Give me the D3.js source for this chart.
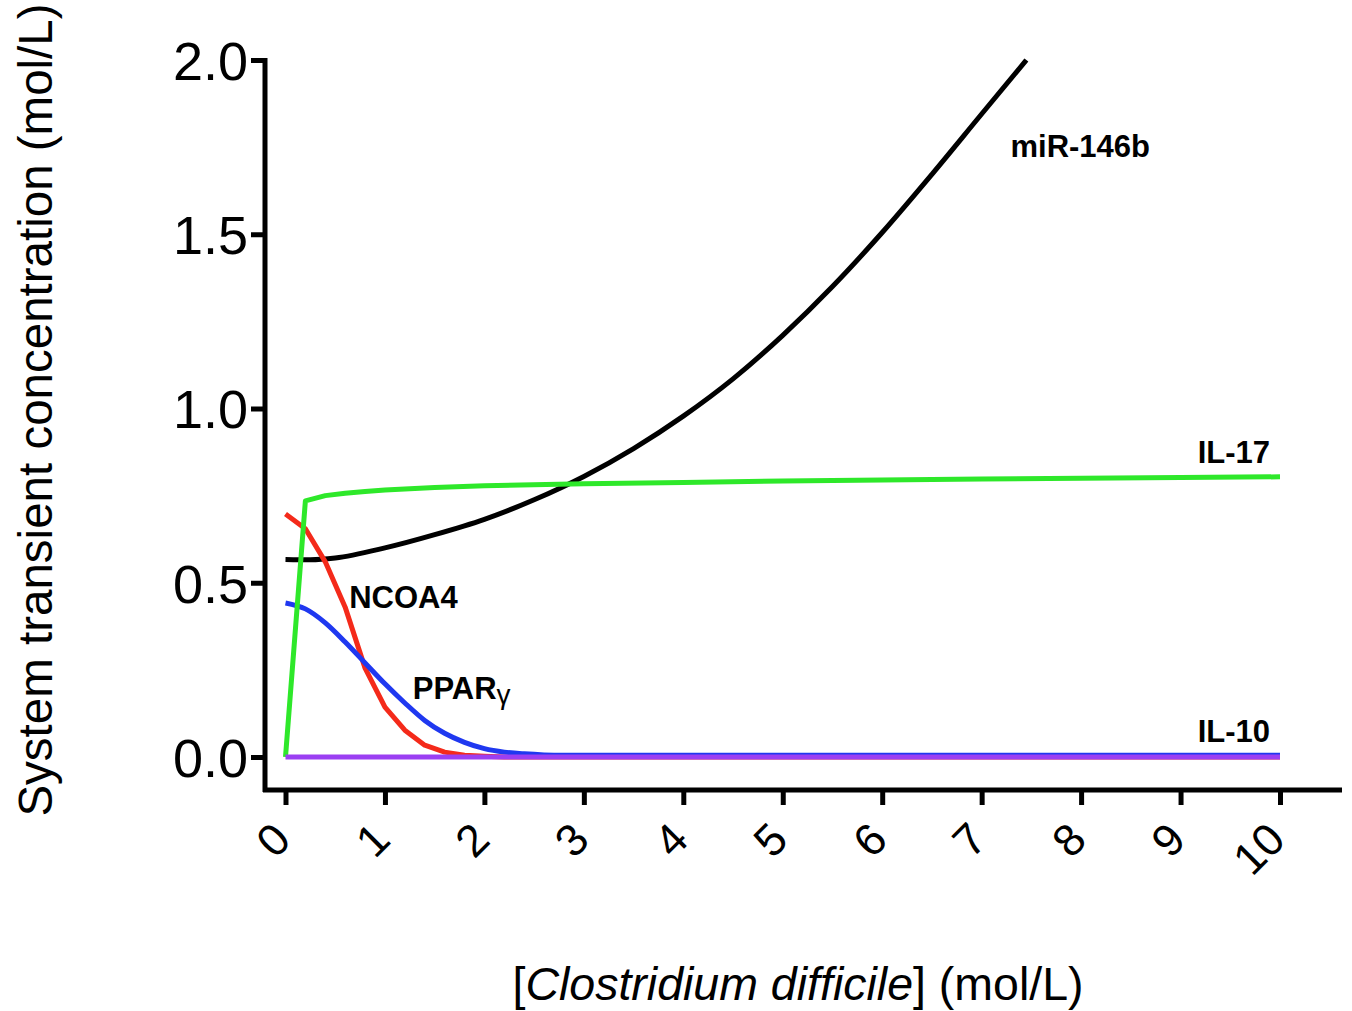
<!DOCTYPE html>
<html>
<head>
<meta charset="utf-8">
<script src="https://cdn.jsdelivr.net/npm/d3@7"></script>
<style>
  html, body { margin: 0; padding: 0; background: #fff; }
  svg { display: block; }
  text { font-family: "Liberation Sans", Arial, Helvetica, sans-serif; fill: #000; }
</style>
</head>
<body>
<svg id="chart" width="1352" height="1011"></svg>
<script>
// Transient concentrations versus C. difficile load
const xTicks = [0, 1, 2, 3, 4, 5, 6, 7, 8, 9, 10];
const yTicks = [0, 0.5, 1.0, 1.5, 2.0];

const mirX = [0, 0.25, 0.5, 1, 1.5, 2, 2.5, 3, 3.5, 4, 4.5, 5, 5.5, 6, 6.5, 7, 7.45];
const mirY = [0.567, 0.566, 0.571, 0.600, 0.638, 0.682, 0.738, 0.805, 0.885, 0.978, 1.085, 1.210, 1.350, 1.505, 1.672, 1.845, 2.000];

const il17X = [0, 0.2, 0.4, 0.6, 0.8, 1, 1.5, 2, 3, 4, 5, 6, 7, 8, 9, 10];
const il17Y = [0, 0.735, 0.750, 0.757, 0.762, 0.766, 0.773, 0.778, 0.784, 0.788, 0.792, 0.795, 0.798, 0.800, 0.802, 0.804];

const ncoaX = [0, 0.2, 0.4, 0.6, 0.8, 1.0, 1.2, 1.4, 1.6, 1.8, 2.0, 2.2, 10];
const ncoaY = [0.697, 0.655, 0.560, 0.430, 0.255, 0.143, 0.077, 0.034, 0.014, 0.005, 0.002, 0, 0];

const pparX = [0, 0.2, 0.4, 0.6, 0.8, 1.0, 1.2, 1.4, 1.6, 1.8, 2.0, 2.2, 2.4, 2.6, 2.8, 3.0, 10];
const pparY = [0.442, 0.425, 0.385, 0.330, 0.270, 0.210, 0.155, 0.105, 0.068, 0.042, 0.024, 0.014, 0.009, 0.006, 0.005, 0.005, 0.005];

const il10X = [0, 10];
const il10Y = [0, 0];

const seriesNames = ["miR-146b", "NCOA4", "PPAR", "IL-17", "IL-10"];
const seriesColors = ["#000000", "#f42a1a", "#1f38f0", "#2ee82a", "#9b3ff2"];

const svg = d3.select("#chart");

const x = d3.scaleLinear().domain([0, 10]).range([285.5, 1280]);
const y = d3.scaleLinear().domain([0, 2]).range([757, 60]);

const axisLeftX = 265;
const axisBottomY = 790;
const strokeW = 5;

// axis lines
svg.append("line")
  .attr("x1", axisLeftX).attr("x2", axisLeftX)
  .attr("y1", y(2) - 2).attr("y2", axisBottomY + 2)
  .attr("stroke", "#000").attr("stroke-width", strokeW);
svg.append("line")
  .attr("x1", axisLeftX - 2).attr("x2", 1342)
  .attr("y1", axisBottomY).attr("y2", axisBottomY)
  .attr("stroke", "#000").attr("stroke-width", strokeW);

// y axis ticks and labels
const yAxis = svg.append("g")
  .attr("transform", `translate(${axisLeftX},0)`)
  .call(d3.axisLeft(y).tickValues(yTicks).tickFormat(d3.format(".1f")).tickSize(14).tickSizeOuter(0));
yAxis.select(".domain").remove();
yAxis.selectAll(".tick line").attr("stroke", "#000").attr("stroke-width", strokeW);
yAxis.selectAll(".tick text")
  .attr("x", -17).attr("dy", "0.36em")
  .style("font-size", "54px").style("font-family", "'Liberation Sans', Arial, sans-serif");

// x axis ticks and rotated labels
const xAxis = svg.append("g")
  .attr("transform", `translate(0,${axisBottomY})`)
  .call(d3.axisBottom(x).tickValues(xTicks).tickFormat(d3.format("d")).tickSize(15).tickSizeOuter(0));
xAxis.select(".domain").remove();
xAxis.selectAll(".tick line").attr("stroke", "#000").attr("stroke-width", strokeW);
xAxis.selectAll(".tick text")
  .attr("y", 0).attr("dy", 0)
  .attr("text-anchor", "end")
  .attr("transform", "translate(7,52) rotate(-45)")
  .style("font-size", "45px").style("font-family", "'Liberation Sans', Arial, sans-serif");

// curves
const line = d3.line().x(d => x(d[0])).y(d => y(d[1]));
const zipped = (xs, ys) => xs.map((v, i) => [v, ys[i]]);

const series = [
  { name: seriesNames[0], color: seriesColors[0], pts: zipped(mirX, mirY), curve: d3.curveMonotoneX },
  { name: seriesNames[1], color: seriesColors[1], pts: zipped(ncoaX, ncoaY), curve: d3.curveLinear },
  { name: seriesNames[2], color: seriesColors[2], pts: zipped(pparX, pparY), curve: d3.curveMonotoneX },
  { name: seriesNames[3], color: seriesColors[3], pts: zipped(il17X, il17Y), curve: d3.curveLinear },
  { name: seriesNames[4], color: seriesColors[4], pts: zipped(il10X, il10Y), curve: d3.curveLinear }
];

svg.append("g").selectAll("path")
  .data(series)
  .join("path")
  .attr("d", s => line.curve(s.curve)(s.pts))
  .attr("fill", "none")
  .attr("stroke", s => s.color)
  .attr("stroke-width", strokeW)
  .attr("stroke-linejoin", "round");

// series labels placed in data coordinates
const labelPos = [
  { text: seriesNames[0], x: 7.29, y: 1.722, anchor: "start" },
  { text: seriesNames[1], x: 0.64, y: 0.428, anchor: "start" },
  { text: seriesNames[2], x: 1.28, y: 0.166, anchor: "start", greek: "\u03B3" },
  { text: seriesNames[3], x: 9.9, y: 0.844, anchor: "end" },
  { text: seriesNames[4], x: 9.9, y: 0.043, anchor: "end" }
];
const lbl = svg.append("g").selectAll("text")
  .data(labelPos)
  .join("text")
  .attr("x", d => x(d.x))
  .attr("y", d => y(d.y))
  .attr("text-anchor", d => d.anchor)
  .style("font-size", "31px")
  .style("font-weight", "bold")
  .text(d => d.text);
// lowered, lighter gamma after PPAR
lbl.filter(d => d.greek)
  .append("tspan")
  .attr("dy", 5)
  .style("font-weight", "normal")
  .style("font-size", "28px")
  .text(d => d.greek);

// axis titles
svg.append("text")
  .attr("transform", "translate(52,410) rotate(-90)")
  .attr("text-anchor", "middle")
  .style("font-size", "47.5px")
  .text("System transient concentration (mol/L)");

const xt = svg.append("text")
  .attr("x", 798).attr("y", 1000)
  .attr("text-anchor", "middle")
  .style("font-size", "46.5px");
xt.append("tspan").text("[");
xt.append("tspan").style("font-style", "italic").text("Clostridium difficile");
xt.append("tspan").text("] (mol/L)");
</script>
</body>
</html>
